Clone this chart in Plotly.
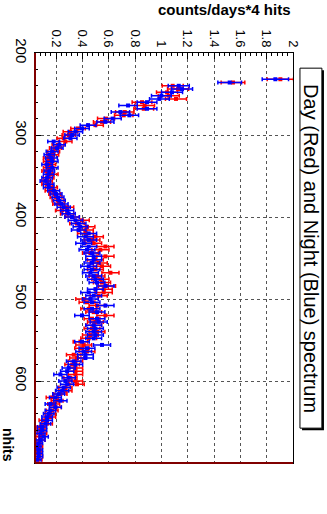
import plotly.graph_objects as go

# bin centres (nhits), 4-hit bins
nhits = list(range(232, 700, 4))

day_vals = [1.904, 1.544, 1.086, 1.127, 1.043, 1.056, 1.111, 0.853, 0.873, 0.866,
            0.722, 0.714, 0.580, 0.549, 0.499, 0.367, 0.309, 0.296, 0.258, 0.271,
            0.215, 0.195, 0.182, 0.175, 0.144, 0.144, 0.157, 0.144, 0.132, 0.170,
            0.144, 0.132, 0.132, 0.165, 0.157, 0.190, 0.200, 0.215, 0.220, 0.284,
            0.246, 0.284, 0.322, 0.397, 0.359, 0.435, 0.423, 0.423, 0.499, 0.473,
            0.486, 0.575, 0.537, 0.461, 0.575, 0.499, 0.524, 0.549, 0.499, 0.613,
            0.511, 0.537, 0.549, 0.587, 0.562, 0.562, 0.524, 0.410, 0.435, 0.511,
            0.448, 0.486, 0.575, 0.473, 0.499, 0.486, 0.473, 0.511, 0.461, 0.448,
            0.385, 0.410, 0.397, 0.435, 0.334, 0.359, 0.347, 0.322, 0.347, 0.347,
            0.347, 0.309, 0.347, 0.359, 0.271, 0.271, 0.233, 0.170, 0.208, 0.182,
            0.195, 0.170, 0.157, 0.157, 0.106, 0.132, 0.081, 0.081, 0.094, 0.081,
            0.081, 0.056, 0.068, 0.056, 0.056, 0.068, 0.063]

day_err = [0.10, 0.09, 0.08, 0.08, 0.08, 0.08, 0.08, 0.075, 0.075, 0.075,
           0.07, 0.07, 0.065, 0.065, 0.06, 0.055, 0.055, 0.05, 0.05, 0.05,
           0.045, 0.045, 0.045, 0.045, 0.04, 0.04, 0.04, 0.04, 0.04, 0.045,
           0.04, 0.04, 0.04, 0.045, 0.04, 0.045, 0.045, 0.045, 0.045, 0.05,
           0.05, 0.05, 0.055, 0.055, 0.055, 0.06, 0.06, 0.06, 0.06, 0.06,
           0.06, 0.065, 0.065, 0.06, 0.065, 0.06, 0.065, 0.065, 0.06, 0.065,
           0.06, 0.065, 0.065, 0.065, 0.065, 0.065, 0.065, 0.06, 0.06, 0.06,
           0.06, 0.06, 0.065, 0.06, 0.06, 0.06, 0.06, 0.06, 0.06, 0.06,
           0.055, 0.06, 0.055, 0.06, 0.055, 0.055, 0.055, 0.055, 0.055, 0.055,
           0.055, 0.05, 0.055, 0.055, 0.05, 0.05, 0.05, 0.045, 0.045, 0.045,
           0.045, 0.045, 0.04, 0.04, 0.035, 0.04, 0.035, 0.035, 0.035, 0.035,
           0.035, 0.03, 0.03, 0.03, 0.03, 0.03, 0.03]

night_vals = [1.866, 1.519, 1.132, 1.157, 1.081, 1.000, 0.985, 0.891, 0.747, 0.891,
              0.689, 0.757, 0.630, 0.575, 0.443, 0.397, 0.347, 0.322, 0.309, 0.182,
              0.225, 0.208, 0.170, 0.149, 0.165, 0.170, 0.132, 0.170, 0.149, 0.144,
              0.132, 0.119, 0.144, 0.144, 0.182, 0.200, 0.215, 0.225, 0.241, 0.258,
              0.284, 0.296, 0.322, 0.347, 0.372, 0.385, 0.372, 0.448, 0.423, 0.448,
              0.410, 0.448, 0.435, 0.473, 0.486, 0.486, 0.473, 0.448, 0.473, 0.461,
              0.486, 0.499, 0.511, 0.575, 0.499, 0.448, 0.486, 0.461, 0.473, 0.575,
              0.473, 0.511, 0.397, 0.511, 0.524, 0.486, 0.499, 0.486, 0.499, 0.486,
              0.397, 0.549, 0.435, 0.410, 0.423, 0.423, 0.334, 0.347, 0.296, 0.284,
              0.233, 0.296, 0.271, 0.284, 0.258, 0.246, 0.220, 0.195, 0.233, 0.157,
              0.195, 0.157, 0.144, 0.132, 0.132, 0.119, 0.094, 0.094, 0.081, 0.106,
              0.081, 0.068, 0.056, 0.068, 0.068, 0.068, 0.056]

night_err = [0.10, 0.09, 0.08, 0.08, 0.08, 0.075, 0.075, 0.075, 0.07, 0.075,
             0.07, 0.07, 0.065, 0.065, 0.06, 0.055, 0.055, 0.055, 0.05, 0.045,
             0.045, 0.045, 0.045, 0.04, 0.045, 0.045, 0.04, 0.045, 0.04, 0.04,
             0.04, 0.04, 0.04, 0.04, 0.045, 0.045, 0.045, 0.045, 0.05, 0.05,
             0.05, 0.05, 0.055, 0.055, 0.055, 0.055, 0.055, 0.06, 0.06, 0.06,
             0.06, 0.06, 0.06, 0.06, 0.06, 0.06, 0.06, 0.06, 0.06, 0.06,
             0.06, 0.06, 0.06, 0.065, 0.06, 0.06, 0.06, 0.06, 0.06, 0.065,
             0.06, 0.06, 0.055, 0.06, 0.065, 0.06, 0.06, 0.06, 0.06, 0.06,
             0.055, 0.065, 0.06, 0.06, 0.06, 0.06, 0.055, 0.055, 0.05, 0.05,
             0.05, 0.05, 0.05, 0.05, 0.05, 0.05, 0.045, 0.045, 0.05, 0.04,
             0.045, 0.04, 0.04, 0.04, 0.04, 0.04, 0.035, 0.035, 0.035, 0.035,
             0.035, 0.03, 0.03, 0.03, 0.03, 0.03, 0.03]

value_ticks = [0.2, 0.4, 0.6, 0.8, 1.0, 1.2, 1.4, 1.6, 1.8, 2.0]
value_ticktext = ["0.2", "0.4", "0.6", "0.8", "1", "1.2", "1.4", "1.6", "1.8", "2"]
nhits_ticks = [200, 300, 400, 500, 600]

FONT = "Liberation Sans, Arial, sans-serif"

fig = go.Figure()
for vals, errs, col in [(day_vals, day_err, "#ff0000"), (night_vals, night_err, "#0000ff")]:
    fig.add_trace(go.Scatter(
        x=vals, y=nhits, mode="markers",
        marker=dict(symbol="square", size=4, color=col),
        error_x=dict(type="data", array=errs, visible=True, color=col,
                     thickness=1.5, width=2),
        showlegend=False, hoverinfo="skip"))

axis_common = dict(
    ticks="inside", ticklen=6, tickwidth=1, tickcolor="black",
    showgrid=True, gridcolor="#555555", griddash="dot", gridwidth=1,
    showline=True, linecolor="black", linewidth=1, mirror=True,
    zeroline=False, tickangle=90, automargin=False,
)

# plot area: x 35..293, y 53..463 in a 327x514 page
fig.update_layout(
    width=327, height=514,
    margin=dict(l=35, r=34, t=53, b=51, pad=0),
    paper_bgcolor="white", plot_bgcolor="white",
    xaxis=dict(range=[0.04, 2.0], side="top", tickmode="array",
               tickvals=value_ticks, ticktext=value_ticktext,
               tickfont=dict(family=FONT, size=13, color="black"),
               minor=dict(dtick=0.04, tick0=0, ticks="inside", ticklen=3,
                          tickcolor="black", showgrid=False),
               **axis_common),
    yaxis=dict(range=[700, 200], tickmode="array", tickvals=nhits_ticks,
               tickfont=dict(family=FONT, size=15, color="black"),
               minor=dict(dtick=20, tick0=200, ticks="inside", ticklen=3,
                          tickcolor="black", showgrid=False),
               **axis_common),
    shapes=[
        dict(type="line", xref="paper", yref="paper", x0=0, x1=0, y0=0, y1=1,
             line=dict(color="#800000", width=2)),
        dict(type="line", xref="paper", yref="paper", x0=0, x1=1, y0=0, y1=0,
             line=dict(color="#800000", width=2)),
        dict(type="rect", xref="paper", yref="paper", layer="below",
             x0=1.035, x1=1.12, y0=0.080, y1=0.958,
             fillcolor="black", line=dict(width=0)),
        dict(type="rect", xref="paper", yref="paper", layer="below",
             x0=1.027, x1=1.112, y0=0.085, y1=0.963,
             fillcolor="white", line=dict(color="black", width=1)),
    ],
    annotations=[
        dict(text="Day (Red) and Night (Blue) spectrum", textangle=90,
             xref="paper", yref="paper", x=1.07, y=0.524,
             xanchor="center", yanchor="middle", showarrow=False,
             font=dict(family=FONT, size=20, color="black")),
        dict(text="<b>counts/days*4 hits</b>", xref="paper", yref="paper",
             x=1.0, y=1.105, xanchor="right", yanchor="middle", showarrow=False,
             font=dict(family=FONT, size=15, color="black")),
        dict(text="<b>nhits</b>", textangle=90, xref="paper", yref="paper",
             x=-0.105, y=0.044, xanchor="center", yanchor="middle", showarrow=False,
             font=dict(family=FONT, size=14, color="black")),
    ],
)

fig.write_html("out.html", config={"displayModeBar": False},
               post_script="document.body.style.margin='0';document.body.style.overflow='hidden';")
